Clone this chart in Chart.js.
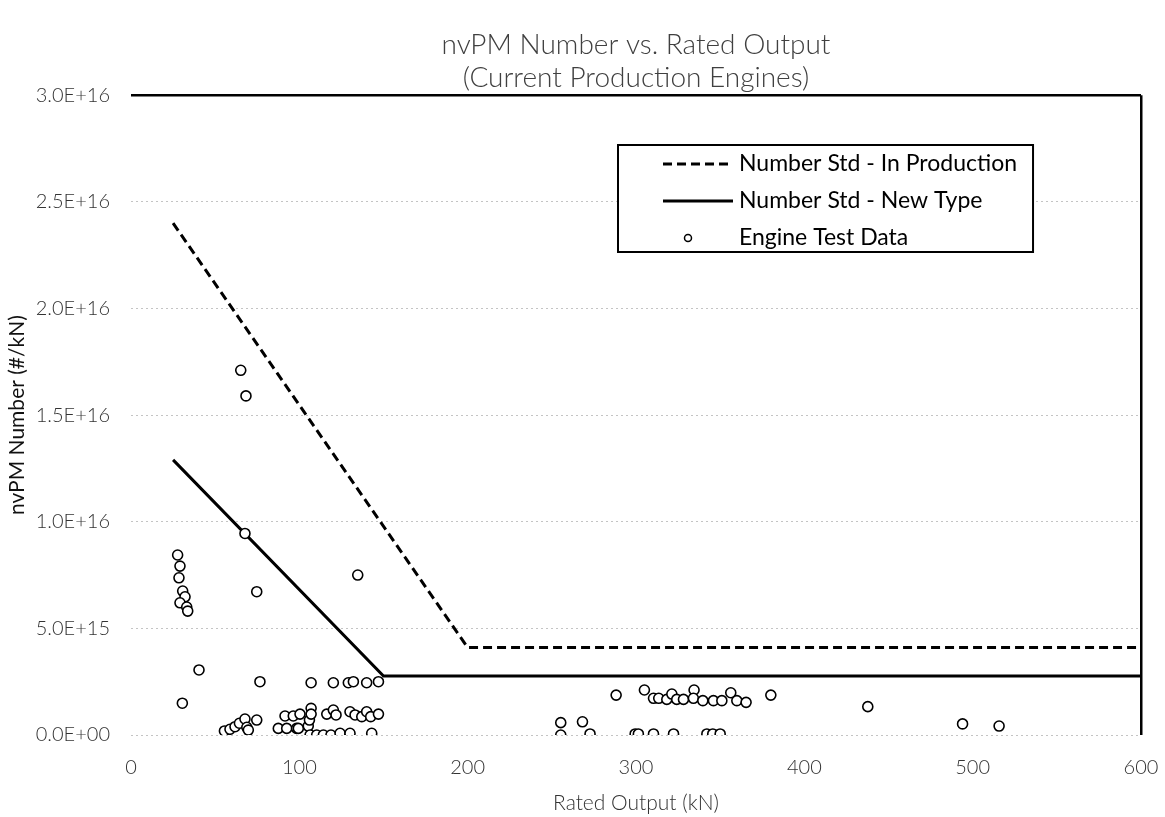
<!DOCTYPE html>
<html>
<head>
<meta charset="utf-8">
<title>nvPM Number vs. Rated Output</title>
<script src="https://cdn.jsdelivr.net/npm/chart.js@4.4.0/dist/chart.umd.min.js"></script>
<style>
  html, body { margin: 0; padding: 0; background: #fff; }
</style>
</head>
<body>
<canvas id="chartScatter" width="1165" height="817"></canvas>
<script>
// DATA --------------------------- ENGINE TEST DATA
var testOutput = [
  65.2, 68.3, 67.7, 27.7, 29.1, 28.5, 30.7, 32.1, 29.1, 33.1, 33.7, 74.7, 134.7, 40.4, 30.5,
  76.6, 107, 120.2, 129.1, 132.1, 140, 147,
  55.5, 58.8, 61.8, 64.4, 67.7, 68.8, 69.7, 74.7, 87.5, 91.5, 92.5, 96.4, 98.4, 99.4, 100.4,
  105.3, 106, 107, 107, 106.4, 110.3, 114.3, 118.8, 124.2, 130.1, 143, 116.3, 120.2, 121.8,
  130.1, 133.1, 137.1, 140, 142.4, 147,
  255.3, 255.3, 268.2, 272.7, 288.2, 299.5, 301.4, 305, 310.4, 310.4, 313.5, 318.3, 321.3,
  322.3, 324.2, 328.2, 334.5, 334.1, 339.7, 342.1, 345.6, 346, 350, 351, 356.3, 359.9, 365.4,
  380.1, 437.7, 494, 515.7
];
var testNumber = [
  1.71e16, 1.59e16, 9.45e15, 8.44e15, 7.92e15, 7.37e15, 6.75e15, 6.48e15, 6.2e15, 6.0e15, 5.81e15, 6.72e15, 7.5e15, 3.05e15, 1.49e15,
  2.5e15, 2.45e15, 2.45e15, 2.45e15, 2.5e15, 2.45e15, 2.5e15,
  1.9e14, 2.7e14, 3.9e14, 5.5e14, 7.5e14, 3.6e14, 2.3e14, 7.0e14, 3.1e14, 8.9e14, 3.1e14, 8.9e14, 3.1e14, 3.1e14, 9.8e14,
  4.2e14, 7.0e14, 1.25e15, 9.8e14, 0, 0, 0, 0, 8e13, 8e13, 8e13, 9.8e14, 1.17e15, 9.4e14,
  1.09e15, 9.4e14, 8.6e14, 1.09e15, 8.6e14, 9.8e14,
  5.8e14, 0, 6.2e14, 5e13, 1.87e15, 5e13, 5e13, 2.11e15, 1.72e15, 5e13, 1.72e15, 1.67e15, 1.92e15,
  5e13, 1.67e15, 1.67e15, 2.11e15, 1.72e15, 1.61e15, 5e13, 5e13, 1.61e15, 5e13, 1.61e15, 1.98e15, 1.61e15, 1.53e15,
  1.87e15, 1.33e15, 5.2e14, 4.2e14
];

// DATA --------------------------- STANDARD LINES
var stdProdOutput = [25, 200, 600];
var stdProdNumber = [2.4e16, 4.1e15, 4.1e15];
var stdNewOutput = [25, 150, 600];
var stdNewNumber = [1.29e16, 2.77e15, 2.77e15];

// DATA --------------------------- TICKS
var xTicks = [0, 100, 200, 300, 400, 500, 600];
var yTicks = [0, 5e15, 1e16, 1.5e16, 2e16, 2.5e16, 3e16];

function toPoints(xs, ys) {
  var pts = [];
  for (var i in xs) {
    pts.push({x: xs[i], y: ys[i]});
  }
  return pts;
}

function sciLabel(v) {
  var s = Number(v).toExponential(1).toUpperCase();
  var parts = s.split('E');
  var exp = parts[1];
  var sign = exp.charAt(0);
  var digits = exp.substring(1);
  if (digits.length < 2) { digits = '0' + digits; }
  return parts[0] + 'E' + sign + digits;
}

// LEGEND BOX INSIDE THE PLOT
var boxLegend = {
  id: 'boxLegend',
  afterDraw: function(chart) {
    var ctx = chart.ctx;
    var bx = 618, by = 145, bh = 107;
    var rows = [chart.data.datasets[0], chart.data.datasets[1], chart.data.datasets[2]];
    ctx.save();
    ctx.font = '23px Lato';
    var maxW = 0;
    for (var k = 0; k < rows.length; k++) {
      maxW = Math.max(maxW, ctx.measureText(rows[k].label).width);
    }
    var bw = 121 + maxW + 16;
    ctx.fillStyle = '#fff';
    ctx.fillRect(bx, by, bw, bh);
    ctx.strokeStyle = '#000';
    ctx.lineWidth = 2;
    ctx.strokeRect(bx, by, bw, bh);
    ctx.textBaseline = 'middle';
    ctx.textAlign = 'left';
    for (var i = 0; i < rows.length; i++) {
      var ds = rows[i];
      var cy = by + 19 + i * 37;
      if (ds.showLine) {
        ctx.beginPath();
        ctx.setLineDash(ds.borderDash || []);
        ctx.lineWidth = ds.borderWidth;
        ctx.strokeStyle = ds.borderColor;
        ctx.moveTo(bx + 45, cy);
        ctx.lineTo(bx + 115, cy);
        ctx.stroke();
        ctx.setLineDash([]);
      } else {
        ctx.beginPath();
        ctx.lineWidth = 1.5;
        ctx.strokeStyle = ds.pointBorderColor;
        ctx.fillStyle = ds.pointBackgroundColor;
        ctx.arc(bx + 70, cy, 3.5, 0, Math.PI * 2);
        ctx.fill();
        ctx.stroke();
      }
      ctx.fillStyle = '#000';
      ctx.fillText(ds.label, bx + 121, cy);
    }
    ctx.restore();
  }
};

// SCATTER CHART
const nvpmData = {
  datasets: [
    {
      label: 'Number Std - In Production',
      data: toPoints(stdProdOutput, stdProdNumber),
      showLine: true,
      borderColor: '#000',
      borderWidth: 3,
      borderDash: [9, 5],
      pointRadius: 0,
      order: 2
    },
    {
      label: 'Number Std - New Type',
      data: toPoints(stdNewOutput, stdNewNumber),
      showLine: true,
      borderColor: '#000',
      borderWidth: 3,
      pointRadius: 0,
      order: 1
    },
    {
      label: 'Engine Test Data',
      data: toPoints(testOutput, testNumber),
      showLine: false,
      pointRadius: 5,
      pointBorderWidth: 1.6,
      pointBorderColor: '#000',
      pointBackgroundColor: '#fff',
      order: 0
    }
  ]
};

const configScatter = {
  type: 'scatter',
  data: nvpmData,
  plugins: [boxLegend],
  options: {
    responsive: false,
    animation: false,
    events: [],
    layout: { padding: { left: 0, right: 24, top: 0, bottom: 0 } },
    plugins: {
      legend: { display: false },
      tooltip: { enabled: false },
      title: {
        display: true,
        fullSize: false,
        text: ['nvPM Number vs. Rated Output', '(Current Production Engines)'],
        color: '#404040',
        font: { family: 'Lato', size: 28, weight: '300', lineHeight: 1.2 },
        padding: { top: 28, bottom: 0 }
      }
    },
    scales: {
      x: {
        type: 'linear',
        min: 0,
        max: 600,
        afterBuildTicks: function(scale) {
          scale.ticks = xTicks.map(function(v) { return {value: v}; });
        },
        afterFit: function(scale) {
          scale.height = 82;
          scale.paddingLeft = 0;
          scale.paddingRight = 0;
        },
        border: { display: false },
        grid: {
          drawTicks: false,
          color: function(c) { return c.tick && c.tick.value === 600 ? '#000' : 'rgba(0,0,0,0)'; },
          lineWidth: 2.5
        },
        ticks: {
          padding: 21,
          color: '#333',
          font: { family: 'Lato', size: 20, weight: '300' }
        },
        title: {
          display: true,
          text: 'Rated Output (kN)',
          color: '#333',
          font: { family: 'Lato', size: 21, weight: '300' },
          padding: { top: 0, bottom: 1 }
        }
      },
      y: {
        min: 0,
        max: 3e16,
        afterBuildTicks: function(scale) {
          scale.ticks = yTicks.map(function(v) { return {value: v}; });
        },
        afterFit: function(scale) { scale.width = 131; },
        border: {
          display: false,
          dash: function(c) { return c.tick && c.tick.value === 3e16 ? [] : [2, 3]; }
        },
        grid: {
          drawTicks: false,
          color: function(c) { return c.tick && c.tick.value === 3e16 ? '#000' : '#c4c4c4'; },
          lineWidth: function(c) { return c.tick && c.tick.value === 3e16 ? 2.5 : 1; }
        },
        ticks: {
          padding: 21,
          color: '#333',
          font: { family: 'Lato', size: 20, weight: '300' },
          callback: function(v) { return sciLabel(v); }
        },
        title: {
          display: true,
          text: 'nvPM Number (#/kN)',
          color: '#111',
          font: { family: 'Lato', size: 21 },
          padding: { top: 5, bottom: 0 }
        }
      }
    }
  }
};

var chartScatter = new Chart(
  document.getElementById('chartScatter'),
  configScatter
);
</script>
</body>
</html>
